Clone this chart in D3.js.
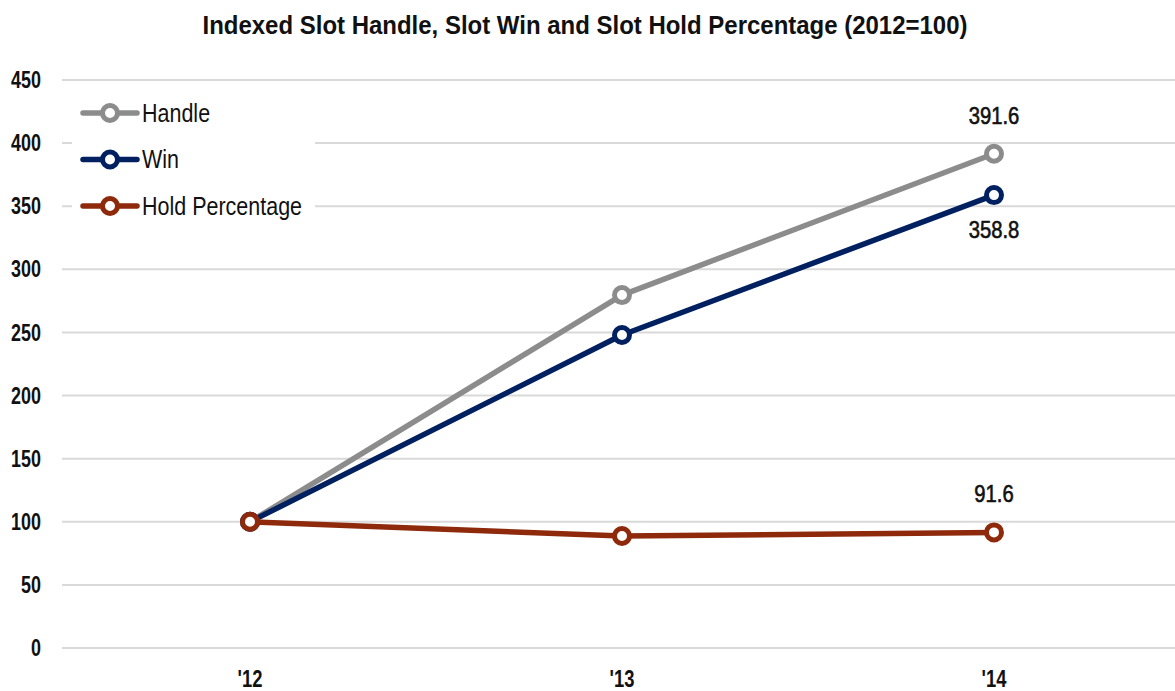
<!DOCTYPE html>
<html><head><meta charset="utf-8">
<script src="https://cdn.jsdelivr.net/npm/d3@7"></script>
<style>
html,body{margin:0;padding:0;background:#fff;}
svg{display:block;font-family:"Liberation Sans",Arial,sans-serif;}
</style></head><body>
<svg id="c" width="1175" height="691"></svg>
<script>
const categories = ["'12", "'13", "'14"];
const handle = [100, 279.6, 391.6];
const win = [100, 248.0, 358.8];
const hold = [100, 88.7, 91.6];
const yTicks = [0, 50, 100, 150, 200, 250, 300, 350, 400, 450];
const seriesNames = ["Handle", "Win", "Hold Percentage"];
const colors = ["#8c8c8c", "#002060", "#8e2a0b"];

const svg = d3.select("#c");
const x = d3.scalePoint().domain(categories).range([64, 1180]).padding(0.5);
const y = d3.scaleLinear().domain([0, 450]).range([648, 80]);

// condensed text helper
function ntext(parent, tx, ty, str, o) {
  const g = parent.append("g").attr("transform", `translate(${tx},${ty}) scale(${o.sx},1)`);
  const t = g.append("text").attr("x", 0).attr("y", 0).attr("dy", "0.35em")
    .attr("text-anchor", o.anchor || "start").attr("font-size", o.size)
    .attr("font-weight", o.weight || "normal").attr("fill", "#111").text(str);
  if (o.stroke) t.attr("stroke", "#111").attr("stroke-width", o.stroke);
  return t;
}

svg.append("text").attr("x", 585).attr("y", 34).attr("text-anchor", "middle")
  .attr("font-size", 26).attr("font-weight", "bold").attr("fill", "#111")
  .attr("textLength", 765).attr("lengthAdjust", "spacingAndGlyphs")
  .text("Indexed Slot Handle, Slot Win and Slot Hold Percentage (2012=100)");

// grid
svg.append("g").selectAll("line").data(yTicks).join("line")
  .attr("x1", 62).attr("x2", 1175)
  .attr("y1", d => y(d)).attr("y2", d => y(d))
  .attr("stroke", "#d9d9d9").attr("stroke-width", 2);

// y tick labels
const yg = svg.append("g");
yTicks.forEach(v => ntext(yg, 41, y(v), d3.format("d")(v), {size: 23, weight: "bold", anchor: "end", sx: 0.78}));

// x tick labels
const xg = svg.append("g");
categories.forEach(c => ntext(xg, x(c), 679, c, {size: 23, weight: "bold", anchor: "middle", sx: 0.8}));

// legend box (white) covering grid
const lg = svg.append("g");
lg.append("rect").attr("x", 72).attr("y", 92).attr("width", 243).attr("height", 133).attr("fill", "#fff");

const data = [handle, win, hold];
const line = d3.line().x((d, i) => x(categories[i])).y(d => y(d));

data.forEach((s, k) => {
  svg.append("path").datum(s).attr("d", line).attr("fill", "none")
    .attr("stroke", colors[k]).attr("stroke-width", 5.5).attr("stroke-linejoin", "round");
});
data.forEach((s, k) => {
  svg.append("g").selectAll("circle").data(s).join("circle")
    .attr("cx", (d, i) => x(categories[i])).attr("cy", d => y(d)).attr("r", 7.5)
    .attr("fill", "#fff").attr("stroke", colors[k]).attr("stroke-width", 5);
});

// data labels at last point
const labelOffsets = [-38, 35, -38];
const dl = svg.append("g");
data.forEach((s, k) => {
  const v = s[s.length - 1];
  ntext(dl, x(categories[2]), y(v) + labelOffsets[k], d3.format(".1f")(v),
    {size: 23, weight: "normal", anchor: "middle", sx: 0.88, stroke: 0.6});
});

// legend entries
seriesNames.forEach((n, k) => {
  const cy = 113 + k * 46.5;
  lg.append("line").attr("x1", 83).attr("x2", 137).attr("y1", cy).attr("y2", cy)
    .attr("stroke", colors[k]).attr("stroke-width", 5.5).attr("stroke-linecap", "round");
  lg.append("circle").attr("cx", 110).attr("cy", cy).attr("r", 7.5)
    .attr("fill", "#fff").attr("stroke", colors[k]).attr("stroke-width", 5);
  ntext(lg, 142, cy, n, {size: 25, anchor: "start", sx: 0.86});
});
</script></body></html>
